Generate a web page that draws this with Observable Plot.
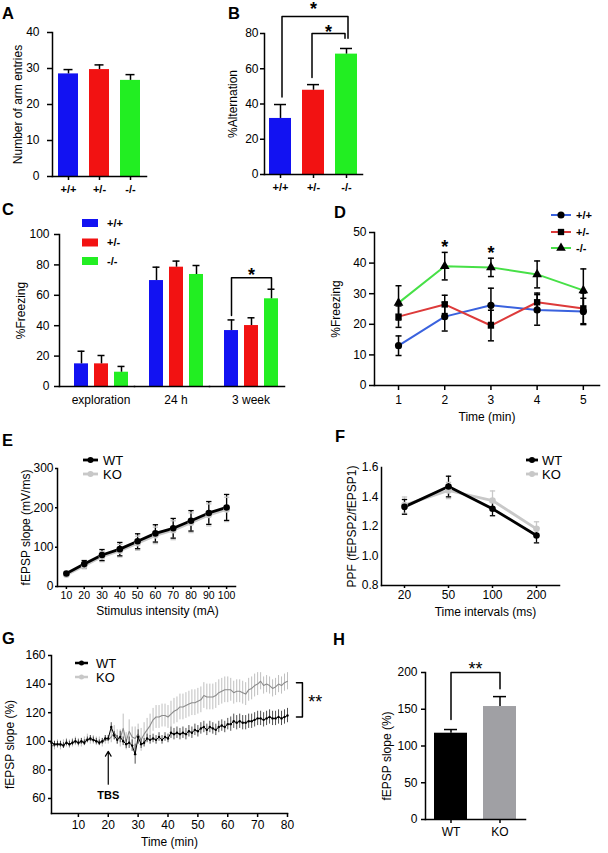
<!DOCTYPE html>
<html><head><meta charset="utf-8">
<script src="https://cdn.jsdelivr.net/npm/d3@7"></script>
<script src="https://cdn.jsdelivr.net/npm/@observablehq/plot@0.6"></script>
<style>
html,body{margin:0;padding:0;background:#fff;}
#root{position:relative;width:608px;height:853px;overflow:hidden;background:#fff;font-family:"Liberation Sans",Arial,sans-serif;}
#root svg{position:absolute;max-width:none;overflow:visible;}
</style></head><body><div id="root"></div>
<script>
// ================= DATA =================
const genotypes = ["+/+", "+/-", "-/-"];
const genotypeColors = ["#1212f2", "#f21212", "#22ee22"];
const lineColors = ["#3a62de", "#dd3a3a", "#47e047"];
const lineSymbols = ["circle", "square", "triangle"];

// A: arm entries
const armEntries = [28.5, 29.7, 26.7];
const armEntriesSem = [1.2, 1.3, 1.6];
const armTicks = [0, 10, 20, 30, 40];

// B: alternation
const alternation = [31.8, 47.8, 68.3];
const alternationSem = [7.9, 3.2, 3.2];
const alternationTicks = [0, 20, 40, 60, 80];
const altBracketOuter = [["+/+", 44], ["+/+", 89.6], ["-/-", 89.6], ["-/-", 77.3]];
const altBracketInner = [["+/-", 55], ["+/-", 80], ["-/-", 80], ["-/-", 77.3]];
const altStars = [["+/-", 96], ["+/-", 83]];

// C: fear conditioning
const phases = ["exploration", "24 h", "3 week"];
const fcWT = [14.9, 69.7, 36.8];
const fcHet = [14.9, 78.5, 40.1];
const fcKO = [9.4, 73.7, 57.7];
const fcWTsem = [8.3, 8.8, 7.0];
const fcHetSem = [5.5, 4.0, 5.1];
const fcKOsem = [3.8, 5.9, 6.3];
const fcTicks = [0, 20, 40, 60, 80, 100];
const fcSigPhase = "3 week";
const fcBracket = [["+/+", 46.7], ["+/+", 71.5], ["-/-", 71.5], ["-/-", 64.3]];
const fcStar = ["+/-", 75.7];

// D: freezing by minute
const minutes = [1, 2, 3, 4, 5];
const dWT = [13, 22.5, 26.2, 24.7, 24.2];
const dWTsem = [3.2, 4.7, 5.6, 5.0, 4.3];
const dHet = [22.5, 26.5, 19.6, 27.2, 25.2];
const dHetSem = [3.5, 3.0, 5.0, 3.0, 5.0];
const dKO = [27, 39, 38.6, 36.3, 31.1];
const dKOsem = [5.6, 4.5, 3.0, 4.4, 7.0];
const dTicksY = [0, 10, 20, 30, 40, 50];
const dStars = [[2, 46.4], [3, 44.4]];

// E: input-output
const intensity = [10, 20, 30, 40, 50, 60, 70, 80, 90, 100];
const eWT = [33, 57, 80, 95, 115, 135, 148, 167, 187, 201];
const eWTsem = [3, 9, 14, 17, 19, 22, 25, 26, 29, 33];
const eKO = [30, 53, 76, 91, 110, 130, 143, 162, 182, 196];
const eKOsem = [3, 8, 13, 16, 18, 21, 24, 25, 28, 31];
const eTicksY = [0, 100, 200, 300];

// F: paired-pulse facilitation
const intervals = ["20", "50", "100", "200"];
const fWT = [1.333, 1.471, 1.32, 1.139];
const fWTsem = [0.05, 0.07, 0.047, 0.05];
const fKO = [1.345, 1.444, 1.376, 1.184];
const fKOsem = [0.055, 0.055, 0.065, 0.048];
const fTicksY = [0.8, 1.0, 1.2, 1.4, 1.6];

// G: LTP time course
const gTime = [1,2,3,4,5,6,7,8,9,10,11,12,13,14,15,16,17,18,19,20,21,22,23,24,25,26,27,28,29,30,31,32,33,34,35,36,37,38,39,40,41,42,43,44,45,46,47,48,49,50,51,52,53,54,55,56,57,58,59,60,61,62,63,64,65,66,67,68,69,70,71,72,73,74,75,76,77,78,79,80];
const gWT = [99,98,98,98,97,99,98,99,100,99, 100,99,101,102,101,100,99,100,102,102, 110,104,101,103,100,98,99,97,91,103, 98,99,102,101,102,101,103,101,103,102, 106,105,106,105,106,105,107,106,108,107, 109,110,108,110,109,108,110,111,110,112, 112,114,113,114,113,113,114,114,115,116, 116,115,116,117,116,116,117,116,117,118];
const gWTsem = [2,2,2,2,2,2,2,2,2,2, 2,2,2,2,2,2,2,2,2,2, 3,3,3,4,3,3,4,4,7,5, 3,3,3,3,3,3,3,3,3,3, 4,4,4,4,4,4,4,4,4,4, 4,4,4,4,4,4,4,4,4,4, 5,5,5,5,5,5,5,5,5,5, 5,5,5,5,5,5,5,5,5,5];
const gKO = [97,97,98,97,98,99,98,99,100,99, 99,100,102,101,101,100,100,99,101,101, 103,106,103,102,109,100,107,103,102,105, 101,105,108,111,115,117,117,118,118,117, 119,121,122,124,124,125,126,127,127,128, 129,132,131,131,131,132,134,135,136,136, 136,134,135,135,134,133,136,137,139,140, 142,139,140,139,137,138,140,139,141,142];
const gKOsem = [3,3,3,3,3,3,3,3,3,3, 3,3,3,3,3,3,3,3,3,3, 4,5,5,6,10,6,8,7,8,7, 8,8,8,8,8,8,8,8,8,8, 9,9,9,9,9,9,9,9,9,9, 9,9,9,9,9,9,9,9,9,9, 8,8,8,8,8,8,8,8,8,8, 6,6,6,6,6,6,6,6,6,6];
const gTicksX = [10, 20, 30, 40, 50, 60, 70, 80];
const gTicksY = [60, 80, 100, 120, 140, 160];
const tbsTime = 20, tbsArrowFrom = 70, tbsArrowTo = 93, tbsLabelY = 62;
const gBracket = [[83, 141], [85, 141], [85, 117], [83, 117]];
const gStars = [89.3, 130];

// H: LTP summary
const hGroups = ["WT", "KO"];
const hValues = [117.4, 153.7];
const hSem = [5, 13.5];
const hColors = ["#000000", "#a0a0a4"];
const hTicks = [0, 50, 100, 150, 200];
const hBracket = [["WT", 136], ["WT", 200], ["KO", 200], ["KO", 178]];
const hStars = ["WT", 209.5];

const panelLetters = [["A", 2, 18.5], ["B", 228, 18.5], ["C", 2, 215], ["D", 334, 218], ["E", 2, 446], ["F", 335, 442], ["G", 2, 644], ["H", 333, 645]];

// ================= HELPERS =================
const FONT = '"Liberation Sans", Arial, Helvetica, sans-serif';
const root = document.getElementById("root");
const AX = 1.5;
function chart({l, r, t, b, m = [30, 30, 40, 55], ...opts}) {
  const [mt, mr, mb, ml] = m;
  const svg = Plot.plot({
    width: ml + (r - l) + mr,
    height: mt + (b - t) + mb,
    marginTop: mt, marginRight: mr, marginBottom: mb, marginLeft: ml,
    style: `font-family:${FONT};font-size:12px;color:black;background:transparent;overflow:visible;max-width:none;`,
    ...opts
  });
  svg.style.position = "absolute";
  svg.style.left = (l - ml) + "px";
  svg.style.top = (t - mt) + "px";
  root.appendChild(svg);
  return svg;
}
const capSymbol = {draw(ctx, size) { const w = Math.sqrt(size) / 2; ctx.moveTo(-w, 0); ctx.lineTo(w, 0); }};
const ylab = (s, dx, extra = {}) => Plot.text([s], {frameAnchor: "left", rotate: -90, dx, text: d => d, textAnchor: "middle", lineAnchor: "middle", ...extra});
const xlab = (s, dy, dx = 0) => Plot.text([s], {frameAnchor: "bottom", dy, dx, text: d => d, textAnchor: "middle", lineAnchor: "middle"});
const frames = (extra = {}) => [Plot.frame({anchor: "left", strokeWidth: AX, ...extra}), Plot.frame({anchor: "bottom", strokeWidth: AX})];

// ================= A =================
const aData = genotypes.map((g, i) => ({g, v: armEntries[i], e: armEntriesSem[i]}));
chart({l: 52, r: 146, t: 32, b: 176,
  x: {domain: genotypes, paddingInner: 0.34, paddingOuter: 0.14},
  y: {domain: [0, 40]},
  color: {domain: genotypes, range: genotypeColors},
  marks: [
    Plot.barY(aData, {x: "g", y: "v", fill: "g"}),
    Plot.ruleX(aData, {x: "g", y1: "v", y2: d => d.v + d.e, strokeWidth: AX}),
    Plot.tickY(aData, {x: "g", y: d => d.v + d.e, insetLeft: 5.5, insetRight: 5.5, strokeWidth: AX}),
    ...frames(),
    Plot.axisY({ticks: armTicks, tickSize: 5, tickPadding: 8, label: null, strokeWidth: AX}),
    Plot.axisX({tickSize: 4, tickPadding: 5, label: null, fontWeight: "bold", fontSize: 11, strokeWidth: AX}),
    ylab("Number of arm entries", -34)
  ]
});

// ================= B =================
const bData = genotypes.map((g, i) => ({g, v: alternation[i], e: alternationSem[i]}));
chart({l: 264, r: 362, t: 33, b: 174,
  x: {domain: genotypes, paddingInner: 0.34, paddingOuter: 0.14},
  y: {domain: [0, 80]},
  color: {domain: genotypes, range: genotypeColors},
  marks: [
    Plot.barY(bData, {x: "g", y: "v", fill: "g"}),
    Plot.ruleX(bData, {x: "g", y1: "v", y2: d => d.v + d.e, strokeWidth: AX}),
    Plot.tickY(bData, {x: "g", y: d => d.v + d.e, insetLeft: 5, insetRight: 5, strokeWidth: AX}),
    Plot.line(altBracketOuter, {x: d => d[0], y: d => d[1], strokeWidth: AX, dx: 1.5}),
    Plot.line(altBracketInner, {x: d => d[0], y: d => d[1], strokeWidth: AX, dx: -1.5}),
    Plot.text([altStars[0]], {x: d => d[0], y: d => d[1], text: () => "*", fontSize: 18, fontWeight: "bold", dy: 4}),
    Plot.text([altStars[1]], {x: d => d[0], y: d => d[1], text: () => "*", fontSize: 18, fontWeight: "bold", dy: 4, dx: 15}),
    ...frames(),
    Plot.axisY({ticks: alternationTicks, tickSize: 4, tickPadding: 2, label: null, strokeWidth: AX}),
    Plot.axisX({tickSize: 4, tickPadding: 5, label: null, fontWeight: "bold", fontSize: 11, strokeWidth: AX}),
    ylab("%Alternation", -31)
  ]
});

// ================= C =================
const fcVals = [fcWT, fcHet, fcKO], fcSems = [fcWTsem, fcHetSem, fcKOsem];
const cData = phases.flatMap((p, j) => genotypes.map((g, i) => ({p, g, v: fcVals[i][j], e: fcSems[i][j]})));
const cBr = fcBracket.map(([g, y]) => ({p: fcSigPhase, g, y}));
chart({l: 58, r: 285, t: 234, b: 386,
  fx: {domain: phases, paddingInner: 0, paddingOuter: 0},
  x: {domain: genotypes, paddingInner: 0.28, paddingOuter: 0.46, align: 0.72, axis: null},
  y: {domain: [0, 100]},
  color: {domain: genotypes, range: genotypeColors},
  marks: [
    Plot.barY(cData, {fx: "p", x: "g", y: "v", fill: "g"}),
    Plot.ruleX(cData, {fx: "p", x: "g", y1: "v", y2: d => d.v + d.e, strokeWidth: AX}),
    Plot.tickY(cData, {fx: "p", x: "g", y: d => d.v + d.e, insetLeft: 3.5, insetRight: 3.5, strokeWidth: AX}),
    Plot.line(cBr, {fx: "p", x: "g", y: "y", strokeWidth: AX}),
    Plot.text([{p: fcSigPhase, g: fcStar[0], y: fcStar[1]}], {fx: "p", x: "g", y: "y", text: () => "*", fontSize: 18, fontWeight: "bold", dy: 4}),
    Plot.frame({anchor: "left", strokeWidth: AX, facetAnchor: "left"}),
    Plot.frame({anchor: "bottom", strokeWidth: AX}),
    Plot.axisY({ticks: fcTicks, tickSize: 5, tickPadding: 5, label: null, strokeWidth: AX}),
    Plot.axisFx({anchor: "bottom", tickSize: 0, tickPadding: 9, label: null, dx: 4}),
    ylab("%Freezing", -38, {facetAnchor: "left"})
  ]
});

// ================= D =================
const dVals = [dWT, dHet, dKO], dSems = [dWTsem, dHetSem, dKOsem];
const dData = genotypes.flatMap((g, i) => minutes.map((t, j) => ({g, t, v: dVals[i][j], e: dSems[i][j]})));
chart({l: 374, r: 599, t: 232, b: 385,
  x: {domain: [0.48, 5.35]},
  y: {domain: [0, 50]},
  color: {domain: genotypes, range: lineColors},
  symbol: {domain: genotypes, range: lineSymbols},
  marks: [
    Plot.line(dData, {x: "t", y: "v", z: "g", stroke: "g", strokeWidth: 2}),
    Plot.ruleX(dData, {x: "t", y1: d => d.v - d.e, y2: d => d.v + d.e, strokeWidth: 1.5}),
    Plot.dot(dData, {x: "t", y: d => d.v + d.e, symbol: capSymbol, r: 3.4, stroke: "black", strokeWidth: 1.5}),
    Plot.dot(dData, {x: "t", y: d => d.v - d.e, symbol: capSymbol, r: 3.4, stroke: "black", strokeWidth: 1.5}),
    Plot.dot(dData, {x: "t", y: "v", symbol: "g", fill: "black", r: 3.6}),
    Plot.text(dStars, {x: d => d[0], y: d => d[1], text: () => "*", fontSize: 18, fontWeight: "bold", dy: 4}),
    ...frames(),
    Plot.axisY({ticks: dTicksY, tickSize: 5, tickPadding: 3, label: null, strokeWidth: AX}),
    Plot.axisX({ticks: minutes, tickFormat: d3.format("d"), tickSize: 5, tickPadding: 5, label: null, strokeWidth: AX}),
    ylab("%Freezing", -38),
    xlab("Time (min)", 32)
  ]
});

// ================= E =================
const eData = [["KO", eKO, eKOsem], ["WT", eWT, eWTsem]].flatMap(([s, v, e]) => intensity.map((x, j) => ({s, x, v: v[j], e: e[j]})));
chart({l: 57, r: 235, t: 468, b: 586,
  x: {domain: [5, 105]},
  y: {domain: [0, 300]},
  color: {domain: ["WT", "KO"], range: ["#000000", "#c8c8c8"]},
  marks: [
    Plot.ruleX(eData, {x: "x", y1: d => d.v - d.e, y2: d => d.v + d.e, stroke: "s", strokeWidth: 1.3}),
    Plot.dot(eData, {x: "x", y: d => d.v + d.e, symbol: capSymbol, r: 3, stroke: "s", strokeWidth: 1.3}),
    Plot.dot(eData, {x: "x", y: d => d.v - d.e, symbol: capSymbol, r: 3, stroke: "s", strokeWidth: 1.3}),
    Plot.line(eData, {x: "x", y: "v", z: "s", stroke: "s", strokeWidth: 2.8}),
    Plot.dot(eData, {x: "x", y: "v", fill: "s", r: 3.3}),
    ...frames(),
    Plot.axisY({ticks: eTicksY, tickSize: 2, tickPadding: 2, label: null, strokeWidth: AX}),
    Plot.axisX({ticks: intensity, tickSize: 3, tickPadding: 2, label: null, strokeWidth: AX, fontSize: 10.5}),
    ylab("fEPSP slope (mV/ms)", -31),
    xlab("Stimulus intensity (mA)", 25, 11)
  ]
});

// ================= F =================
const fData = [["KO", fKO, fKOsem], ["WT", fWT, fWTsem]].flatMap(([s, v, e]) => intervals.map((x, j) => ({s, x, v: v[j], e: e[j]})));
chart({l: 381, r: 559, t: 467, b: 585,
  x: {type: "point", domain: intervals, padding: 0.48},
  y: {domain: [0.8, 1.6]},
  color: {domain: ["WT", "KO"], range: ["#000000", "#c8c8c8"]},
  marks: [
    Plot.ruleX(fData, {x: "x", y1: d => d.v - d.e, y2: d => d.v + d.e, stroke: "s", strokeWidth: 1.3}),
    Plot.dot(fData, {x: "x", y: d => d.v + d.e, symbol: capSymbol, r: 3, stroke: "s", strokeWidth: 1.3}),
    Plot.dot(fData, {x: "x", y: d => d.v - d.e, symbol: capSymbol, r: 3, stroke: "s", strokeWidth: 1.3}),
    Plot.line(fData, {x: "x", y: "v", z: "s", stroke: "s", strokeWidth: 2.8}),
    Plot.dot(fData, {x: "x", y: "v", fill: "s", r: 3.3}),
    ...frames(),
    Plot.axisY({ticks: fTicksY, tickFormat: d3.format(".1f"), tickSize: 0, tickPadding: 3, label: null, strokeWidth: AX}),
    Plot.axisX({tickSize: 3, tickPadding: 2, label: null, strokeWidth: AX}),
    ylab("PPF (fEPSP2/fEPSP1)", -29.5),
    xlab("Time intervals (ms)", 27, 15)
  ]
});

// ================= G =================
const gData = [["KO", gKO, gKOsem], ["WT", gWT, gWTsem]].flatMap(([s, v, e]) => gTime.map((t, j) => ({s, t, v: v[j], e: e[j]})));
const gKOd = gData.filter(d => d.s === "KO"), gWTd = gData.filter(d => d.s === "WT");
chart({l: 51, r: 287, t: 655, b: 813,
  x: {domain: [1, 80]},
  y: {domain: [49.5, 160]},
  marks: [
    Plot.ruleX(gKOd, {x: "t", y1: d => d.v - d.e, y2: d => d.v + d.e, stroke: "#b8b8b8", strokeWidth: 0.9}),
    Plot.line(gKOd, {x: "t", y: "v", stroke: "#8c8c8c", strokeWidth: 1.1}),
    Plot.ruleX(gWTd, {x: "t", y1: d => d.v - d.e, y2: d => d.v + d.e, stroke: "#222", strokeWidth: 0.8}),
    Plot.line(gWTd, {x: "t", y: "v", stroke: "#000", strokeWidth: 1}),
    Plot.dot(gWTd, {x: "t", y: "v", fill: "#000", r: 1.2}),
    Plot.arrow([tbsTime], {x1: d => d, x2: d => d, y1: () => tbsArrowFrom, y2: () => tbsArrowTo, strokeWidth: 1.2, headLength: 7}),
    Plot.text([tbsTime], {x: d => d, y: () => tbsLabelY, text: () => "TBS", fontWeight: "bold", fontSize: 11}),
    Plot.line(gBracket, {x: d => d[0], y: d => d[1], strokeWidth: AX}),
    Plot.text([gStars], {x: d => d[0], y: d => d[1], text: () => "**", fontSize: 18, dy: 4}),
    ...frames(),
    Plot.axisY({ticks: gTicksY, tickSize: 3, tickPadding: 3, label: null, strokeWidth: AX}),
    Plot.axisX({ticks: gTicksX, tickSize: 4, tickPadding: 3, label: null, strokeWidth: AX}),
    ylab("fEPSP slope (%)", -41, {dy: 10}),
    xlab("Time (min)", 29)
  ]
});

// ================= H =================
const hData = hGroups.map((g, i) => ({g, v: hValues[i], e: hSem[i]}));
chart({l: 425, r: 525, t: 672, b: 819,
  x: {domain: hGroups, paddingInner: 0.33, paddingOuter: 0.185},
  y: {domain: [0, 200]},
  color: {domain: hGroups, range: hColors},
  marks: [
    Plot.barY(hData, {x: "g", y: "v", fill: "g"}),
    Plot.ruleX(hData, {x: "g", y1: "v", y2: d => d.v + d.e, strokeWidth: AX}),
    Plot.tickY(hData, {x: "g", y: d => d.v + d.e, insetLeft: 10, insetRight: 10, strokeWidth: AX}),
    Plot.line(hBracket, {x: d => d[0], y: d => d[1], strokeWidth: AX}),
    Plot.text([hStars], {x: d => d[0], y: d => d[1], text: () => "**", fontSize: 18, dy: 4, dx: 24.5}),
    ...frames(),
    Plot.axisY({ticks: hTicks, tickSize: 4, tickPadding: 4, label: null, strokeWidth: AX}),
    Plot.axisX({tickSize: 4, tickPadding: 4, label: null, strokeWidth: AX}),
    ylab("fEPSP slope (%)", -38, {dy: 10})
  ]
});

// ================= LEGENDS & LETTERS =================
const ov = d3.select(root).append("svg").attr("width", 608).attr("height", 853)
  .style("left", "0px").style("top", "0px").style("font-family", FONT);
ov.selectAll("text.letter").data(panelLetters).join("text").attr("class", "letter")
  .attr("x", d => d[1]).attr("y", d => d[2]).attr("font-size", 16.5).attr("font-weight", "bold").text(d => d[0]);

// C legend
const cLegY = [223, 242.5, 261];
genotypes.forEach((g, i) => {
  ov.append("rect").attr("x", 82).attr("y", cLegY[i] - 4).attr("width", 16).attr("height", 8).attr("fill", genotypeColors[i]);
  ov.append("text").attr("x", 107).attr("y", cLegY[i]).attr("dy", "0.35em").attr("font-size", 11).attr("font-weight", "bold").text(g);
});
// D legend
const dLegY = [215, 232, 248];
genotypes.forEach((g, i) => {
  const y = dLegY[i];
  ov.append("line").attr("x1", 551).attr("x2", 571).attr("y1", y).attr("y2", y).attr("stroke", lineColors[i]).attr("stroke-width", 2);
  ov.append("path").attr("transform", `translate(561,${y})`).attr("d", d3.symbol([d3.symbolCircle, d3.symbolSquare, d3.symbolTriangle][i], 40)()).attr("fill", "black");
  ov.append("text").attr("x", 576).attr("y", y).attr("dy", "0.35em").attr("font-size", 11).attr("font-weight", "bold").text(g);
});
// E / F / G legends
function wtko(x1, x2, tx, y1, y2, r, sw) {
  [["WT", "#000", y1], ["KO", "#c8c8c8", y2]].forEach(([s, c, y]) => {
    ov.append("line").attr("x1", x1).attr("x2", x2).attr("y1", y).attr("y2", y).attr("stroke", c).attr("stroke-width", sw);
    ov.append("circle").attr("cx", (x1 + x2) / 2).attr("cy", y).attr("r", r).attr("fill", c);
    ov.append("text").attr("x", tx).attr("y", y).attr("dy", "0.35em").attr("font-size", 13).text(s);
  });
}
wtko(83, 98, 103, 460, 474, 3, 2.8);
wtko(526, 538, 542, 460, 474, 3, 2.8);
wtko(75, 88, 96, 663, 677, 2.5, 2.5);
</script></body></html>
